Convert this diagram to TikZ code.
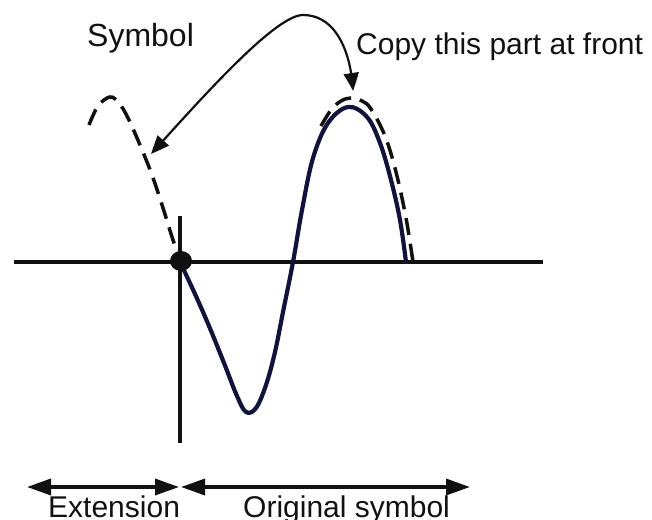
\documentclass[tikz,border=0pt]{standalone}
\usepackage{fontspec}
\setmainfont{Liberation Sans}
\usetikzlibrary{arrows.meta,bending,shapes.geometric}
\definecolor{wave}{RGB}{18,18,58}
\definecolor{ink}{RGB}{17,17,17}
\tikzset{
  axisline/.style={line width=3.5pt,ink},
  wavecurve/.style={line width=4.2pt,wave,line cap=round,line join=round},
  dashcurve/.style={line width=3.5pt,ink,dash pattern=on 17pt off 9pt},
  copyarrow/.style={line width=2.2pt,ink,{Triangle[length=18pt,width=15pt,bend]}-{Triangle[length=18pt,width=15pt,bend]}},
  spanarrow/.style={line width=3.5pt,ink,{Triangle[length=24pt,width=16pt]}-{Triangle[length=24pt,width=16pt]}},
  label/.style={inner sep=0pt,anchor=base west,text=ink,font=\fontsize{30}{36}\selectfont}
}
\begin{document}
\begin{tikzpicture}[x=1pt,y=-1pt]
\useasboundingbox (0,0) rectangle (652,519);
% axes
\coordinate (axL) at (14,262);
\coordinate (axR) at (543,262);
\coordinate (vT) at (180,216);
\coordinate (vB) at (180,443);
\draw[axisline] (axL) -- (axR);
\draw[axisline] (vT) -- (vB);
% original symbol (solid wave)
\draw[wavecurve] plot[smooth,tension=0.6] coordinates {
 (181,264) (195,294) (209,326) (224,363) (237,396) (246,412) (256,408) (266,385)
 (275,352) (283,312) (293,262) (302,210) (313,158) (328,123) (348,107)
 (367,117) (380,143) (391,180) (400,220) (406,262)};
% dashed copy over the peak
\draw[dashcurve] plot[smooth,tension=0.6] coordinates {
 (321,126) (331,110) (341,101) (351,98) (362,101) (371,109) (385,136) (396,172) (406,218) (413,262)};
% dashed extension
\draw[dashcurve] plot[smooth,tension=0.6] coordinates {
 (89,125) (98,106) (110,97) (119,103) (128,118) (140,145) (152,175) (163,208) (173,240) (181,262)};
% junction dot
\node[fill=ink,ellipse,minimum width=22pt,minimum height=20pt,inner sep=0pt] (dot) at (181,261) {};
% curved arrow
\coordinate (cpR) at (353,91);
\coordinate (cpL) at (151,154);
\coordinate (cpT) at (303,15);
\draw[copyarrow] (cpR) .. controls (351,52) and (336,15) .. (cpT)
  .. controls (275,15) and (200,100) .. (cpL);
% span arrows
\coordinate (eL) at (27,487);
\coordinate (eR) at (179,487);
\coordinate (oL) at (181,487);
\coordinate (oR) at (470,487);
\draw[spanarrow] (eL) -- (eR);
\draw[spanarrow] (oL) -- (oR);
% labels
\node[label,font=\fontsize{32}{36}\selectfont] (sym) at (87,47) {Symbol};
\node[label] (copy) at (356,54) {Copy this part at front};
\node[label] (ext) at (48,517) {Extension};
\node[label] (orig) at (243,517) {Original symbol};
\end{tikzpicture}
\end{document}
